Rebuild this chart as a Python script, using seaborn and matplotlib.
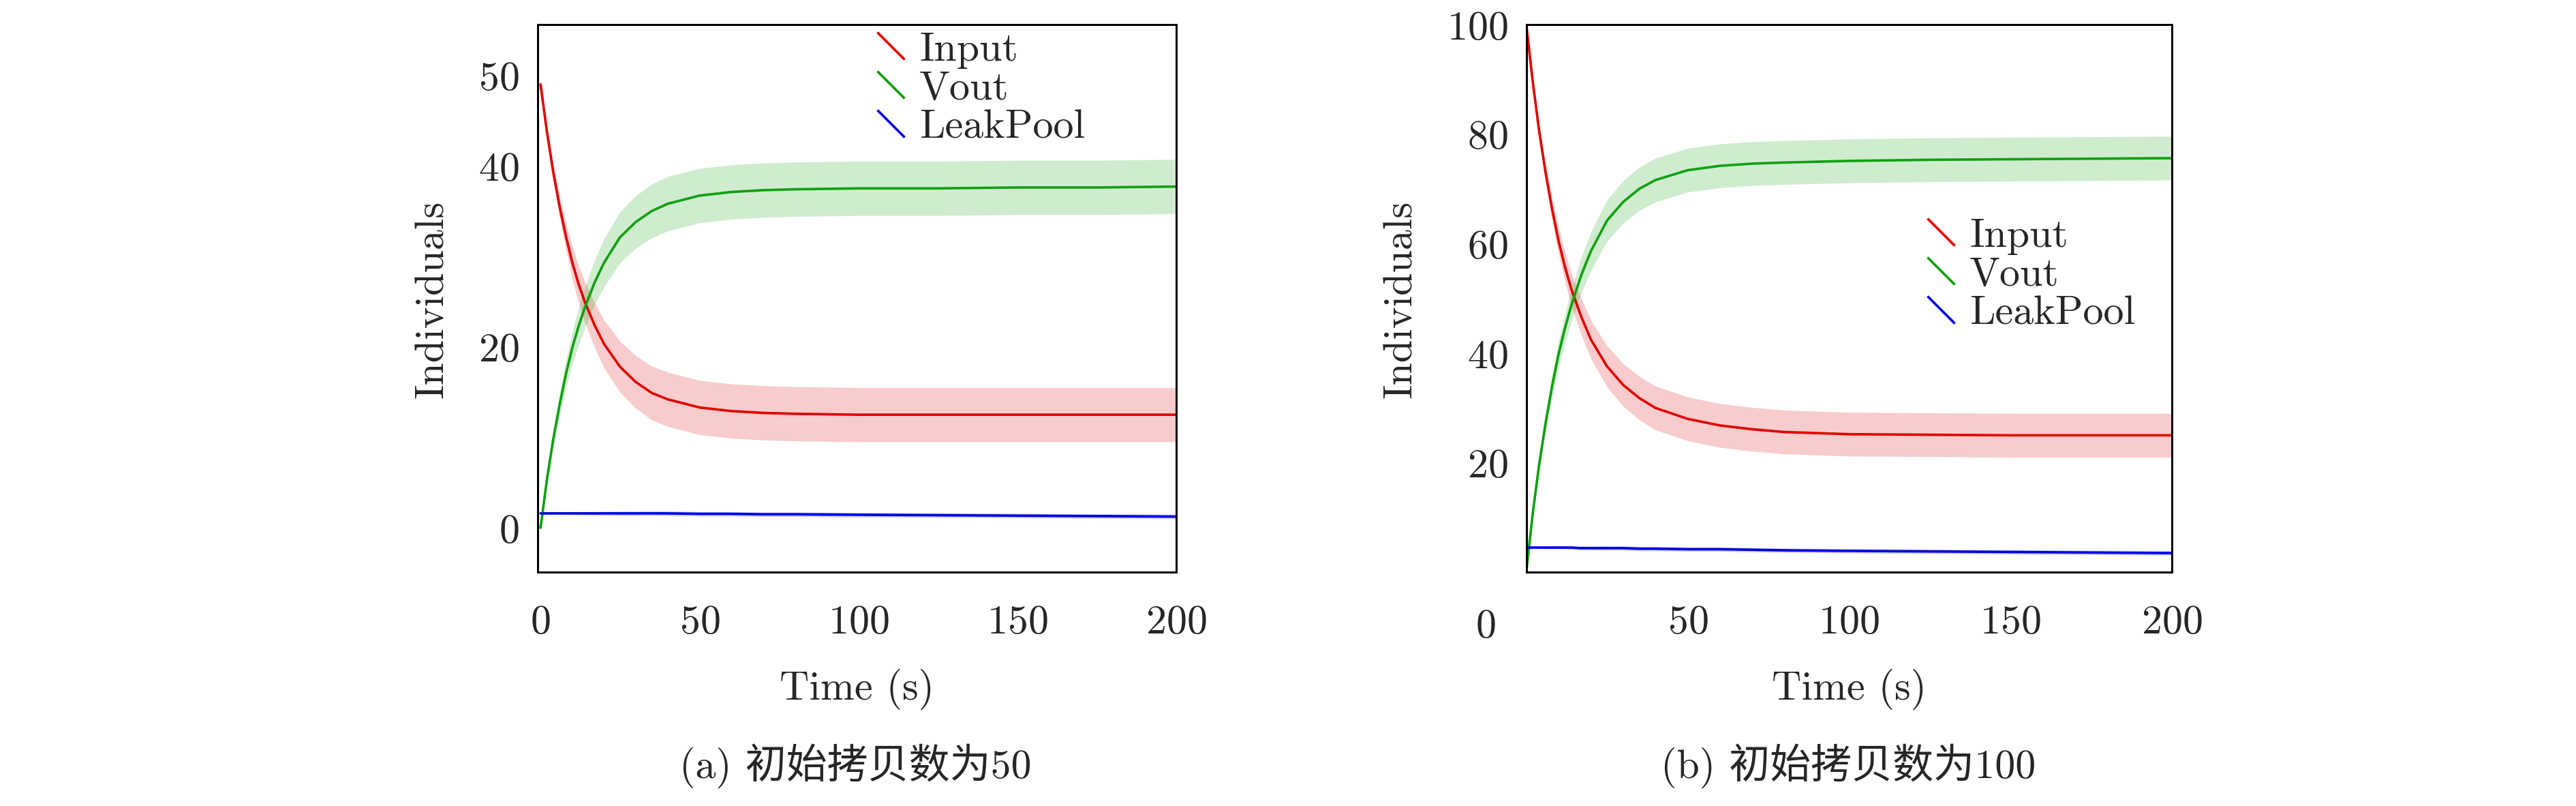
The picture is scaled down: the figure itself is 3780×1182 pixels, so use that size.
import matplotlib
matplotlib.use("Agg")
import matplotlib.pyplot as plt
import seaborn as sns
import numpy as np
import pandas as pd
from matplotlib.path import Path
from matplotlib.lines import Line2D

sns.set_style("white")
plt.rcParams['font.family'] = ['cmr10', 'Noto Sans CJK SC']
plt.rcParams['mathtext.fontset'] = 'cm'
plt.rcParams['axes.formatter.use_mathtext'] = True

# values
time = [0, 2, 4, 6, 8, 10, 12, 14, 17, 20, 25, 30, 35, 40, 50, 60, 70, 80,
        100, 125, 150, 175, 200]
input_50 = [49, 43.8, 39.3, 35.5, 32.2, 29.3, 26.9, 24.9, 22.4, 20.3, 17.8, 16.1,
            14.9, 14.2, 13.3, 12.9, 12.7, 12.6, 12.5, 12.5, 12.5, 12.5, 12.5]
vout_50 = [0, 5.3, 9.8, 13.6, 17.0, 19.9, 22.3, 24.4, 27.1, 29.3, 32.1, 33.8,
           35.0, 35.8, 36.7, 37.1, 37.3, 37.4, 37.5, 37.5, 37.6, 37.6, 37.7]
leak_50 = [1.6, 1.6, 1.6, 1.6, 1.6, 1.6, 1.6, 1.6, 1.6, 1.6, 1.6, 1.6,
           1.6, 1.6, 1.55, 1.55, 1.5, 1.5, 1.45, 1.4, 1.35, 1.3, 1.25]
input_100 = [100, 89.6, 80.5, 72.9, 66.3, 60.5, 55.7, 51.6, 46.7, 42.5, 37.6, 34.2,
             31.8, 30.0, 28.0, 26.8, 26.1, 25.6, 25.2, 25.1, 25.0, 25.0, 25.0]
vout_100 = [0, 10.7, 19.7, 27.3, 34.0, 39.8, 44.6, 48.8, 54.2, 58.6, 64.2, 67.6,
            70.0, 71.6, 73.4, 74.2, 74.6, 74.8, 75.1, 75.3, 75.4, 75.5, 75.6]
leak_100 = [4.5, 4.5, 4.5, 4.5, 4.5, 4.5, 4.5, 4.5, 4.4, 4.4, 4.4, 4.4,
            4.3, 4.3, 4.2, 4.2, 4.1, 4.0, 3.9, 3.8, 3.7, 3.6, 3.5]
spread = [0, 0.15, 0.3, 0.4, 0.5, 0.6, 0.68, 0.75, 0.82, 0.88, 0.94, 0.97,
          0.99, 1, 1, 1, 1, 1, 1, 1, 1, 1, 1]

panels = [
    dict(inp=input_50, vout=vout_50, leak=leak_50, band=3.0, lband=0.25,
         ylim=(-4.9, 55.6), yticks=[0, 20, 40, 50], xlim=(-1, 200),
         xticks=[0, 50, 100, 150, 200], caption="(a) 初始拷贝数为50",
         legend_loc=(0.47, 1.04)),
    dict(inp=input_100, vout=vout_100, leak=leak_100, band=4.0, lband=0.4,
         ylim=(0, 100), yticks=[20, 40, 60, 80, 100], xlim=(0, 200),
         xticks=[50, 100, 150, 200], caption="(b) 初始拷贝数为100",
         legend_loc=(0.56, 0.7)),
]

red, green, blue = '#e00000', '#10a010', '#0000e0'
diag = Path([(-1, 1), (1, -1)], [Path.MOVETO, Path.LINETO])
fs = 18

fig = plt.figure(figsize=(15.75, 4.929), dpi=240)
positions = [[0.2086, 0.2898, 0.248, 0.679], [0.5925, 0.2898, 0.2506, 0.679]]
cap_x = [0.332, 0.7175]

for p, pos, cx in zip(panels, positions, cap_x):
    ax = fig.add_axes(pos)
    t = np.array(time)
    s = np.array(spread)
    for vals, col, b in [(p['inp'], red, p['band']), (p['vout'], green, p['band']),
                         (p['leak'], blue, p['lband'])]:
        v = np.array(vals)
        ax.fill_between(t, v - b * s, v + b * s, color=col, alpha=0.2, lw=0)
        sns.lineplot(x=t, y=v, color=col, lw=1.1, ax=ax)
    ax.set_xlim(*p['xlim'])
    ax.set_ylim(*p['ylim'])
    ax.set_xticks(p['xticks'])
    ax.set_yticks(p['yticks'])
    ax.tick_params(direction='in', length=4, labelsize=fs, width=0.8)
    ax.tick_params(axis='x', pad=14)
    ax.tick_params(axis='y', pad=8)
    for sp in ax.spines.values():
        sp.set_color('black')
        sp.set_linewidth(0.9)
    ax.set_xlabel("Time (s)", fontsize=fs, labelpad=12)
    ax.set_ylabel("Individuals", fontsize=fs, labelpad=12)
    handles = [Line2D([], [], ls='none', marker=diag, markersize=12,
                      markeredgecolor=c, markeredgewidth=1.1, markerfacecolor='none')
               for c in (red, green, blue)]
    ax.legend(handles, ["Input", "Vout", "LeakPool"], loc='upper left',
              bbox_to_anchor=p['legend_loc'], frameon=False, fontsize=fs,
              handletextpad=0.1, labelspacing=0.05, borderpad=0.2,
              handlelength=1.2)
    fig.text(cx, 0.051, p['caption'], ha='center', va='center', fontsize=fs)
    if p['xlim'][0] == 0 and 0 not in p['xticks']:
        ax.text(-0.062, -0.1, "0", transform=ax.transAxes, ha='center',
                va='center', fontsize=fs)

fig.savefig("out.png", dpi=240)
